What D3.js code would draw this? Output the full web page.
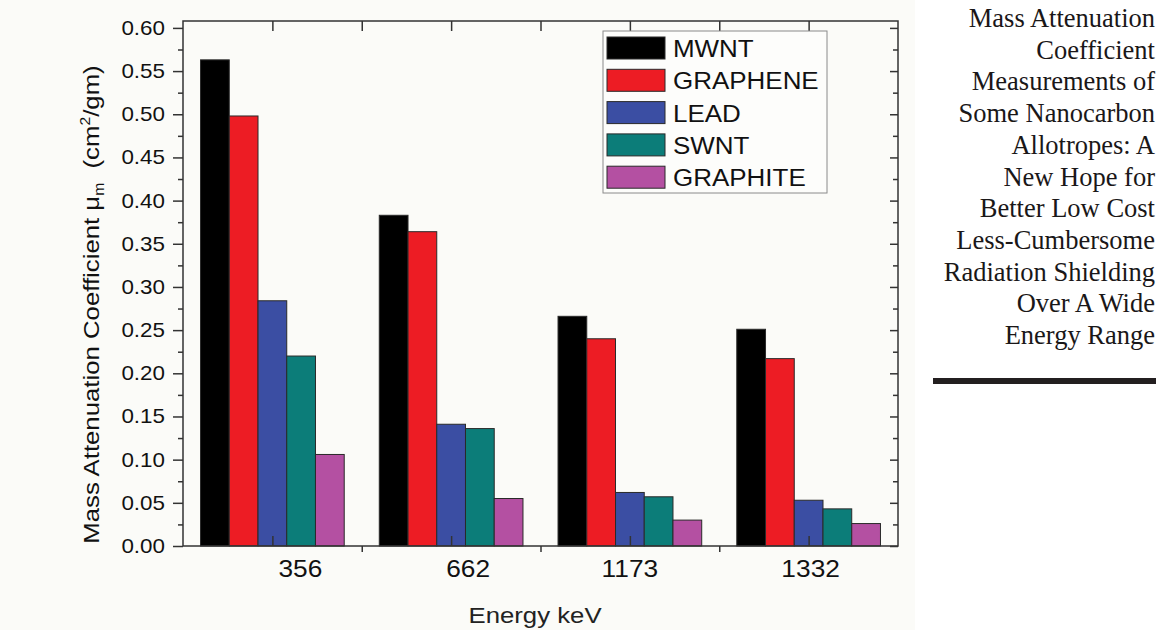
<!DOCTYPE html>
<html>
<head>
<meta charset="utf-8">
<script src="https://cdn.jsdelivr.net/npm/d3@7"></script>
<style>
  body { margin: 0; background: #fff; }
  svg { display: block; }
</style>
</head>
<body>
<div id="chart"></div>
<script>
// data
var energies = ["356", "662", "1173", "1332"];
var materials = ["MWNT", "GRAPHENE", "LEAD", "SWNT", "GRAPHITE"];
var mwnt = [0.563, 0.383, 0.266, 0.251];
var graphene = [0.498, 0.364, 0.240, 0.217];
var lead = [0.284, 0.141, 0.062, 0.053];
var swnt = [0.220, 0.136, 0.057, 0.043];
var graphite = [0.106, 0.055, 0.030, 0.026];
var yTicks = [0, 0.05, 0.10, 0.15, 0.20, 0.25, 0.30, 0.35, 0.40, 0.45, 0.50, 0.55, 0.60];
var yMinor = [0.025, 0.075, 0.125, 0.175, 0.225, 0.275, 0.325, 0.375, 0.425, 0.475, 0.525, 0.575];
var titleLines = ["Mass Attenuation", "Coefficient", "Measurements of", "Some Nanocarbon",
  "Allotropes: A", "New Hope for", "Better Low Cost", "Less-Cumbersome",
  "Radiation Shielding", "Over A Wide", "Energy Range"];

var series = [mwnt, graphene, lead, swnt, graphite];
var colors = ["#000000", "#ed1c24", "#3b4ea3", "#0c7d79", "#b450a2"];
// energy labels in the figure sit a little right of the group centres
var labelNudge = [28, 17, 0, 2];

var W = 1159, H = 630;
var margin = { top: 21, right: 261, bottom: 84, left: 183 };
var width = W - margin.left - margin.right,
  height = H - margin.top - margin.bottom;
var font = "'Liberation Sans', Arial, sans-serif";
// the sans text in the figure is a bit wider than it is tall
var stretch = 1.12;

var svg = d3.select("#chart")
  .append("svg")
  .attr("width", W)
  .attr("height", H);

// the figure panel has a faint off-white tone
svg.append("rect")
  .attr("x", 0).attr("y", 0)
  .attr("width", 915).attr("height", H)
  .attr("fill", "#fbfbf8");

var g = svg.append("g")
  .attr("transform", "translate(" + margin.left + "," + margin.top + ")");

var x0 = d3.scaleBand()
  .domain(energies)
  .range([0, width]);

var x1 = d3.scaleBand()
  .domain(materials)
  .range([0, x0.bandwidth()])
  .paddingOuter(0.61);

var y = d3.scaleLinear()
  .domain([0, 0.608])
  .range([height, 0]);

// bars
var groups = g.selectAll(".group")
  .data(energies)
  .enter()
  .append("g")
  .attr("class", "group")
  .attr("transform", function(d) { return "translate(" + x0(d) + ",0)"; });

groups.selectAll("rect")
  .data(function(d, i) {
    return materials.map(function(m, j) { return { m: m, v: series[j][i], c: colors[j] }; });
  })
  .enter()
  .append("rect")
  .attr("x", function(d) { return x1(d.m); })
  .attr("y", function(d) { return y(d.v); })
  .attr("width", x1.bandwidth())
  .attr("height", function(d) { return height - y(d.v); })
  .attr("fill", function(d) { return d.c; })
  .attr("stroke", "#2a2a2a")
  .attr("stroke-width", 1);

// frame
g.append("rect")
  .attr("x", 0).attr("y", 0)
  .attr("width", width).attr("height", height)
  .attr("fill", "none")
  .attr("stroke", "#333")
  .attr("stroke-width", 1.5);

function styleAxis(sel) {
  sel.select(".domain").remove();
  sel.selectAll("line").attr("stroke", "#333").attr("stroke-width", 1.5);
}

// left axis, ticks outward
var left = g.append("g")
  .call(d3.axisLeft(y).tickValues(yTicks).tickSize(10).tickFormat(d3.format(".2f")))
  .call(styleAxis);
left.selectAll("text")
  .attr("font-family", font)
  .attr("font-size", "20px")
  .attr("fill", "#111")
  .attr("x", -18 / stretch)
  .attr("transform", "scale(" + stretch + ",1)");

g.append("g")
  .call(d3.axisLeft(y).tickValues(yMinor).tickSize(5).tickFormat(""))
  .call(styleAxis);

// right axis, ticks inward
g.append("g")
  .attr("transform", "translate(" + width + ",0)")
  .call(d3.axisRight(y).tickValues(yTicks).tickSize(-8).tickFormat(""))
  .call(styleAxis);
g.append("g")
  .attr("transform", "translate(" + width + ",0)")
  .call(d3.axisRight(y).tickValues(yMinor).tickSize(-5).tickFormat(""))
  .call(styleAxis);

// x ticks: centres point inward, boundaries point outward at the bottom
var xs = d3.scaleLinear().domain([0, energies.length]).range([0, width]);
var centres = energies.map(function(d, i) { return i + 0.5; });
var bounds = d3.range(1, energies.length);

g.append("g")
  .attr("transform", "translate(0," + height + ")")
  .call(d3.axisBottom(xs).tickValues(centres).tickSize(-10).tickFormat(""))
  .call(styleAxis);
g.append("g")
  .attr("transform", "translate(0," + height + ")")
  .call(d3.axisBottom(xs).tickValues(bounds).tickSize(6).tickFormat(""))
  .call(styleAxis);
g.append("g")
  .call(d3.axisTop(xs).tickValues(centres.concat(bounds)).tickSize(-10).tickFormat(""))
  .call(styleAxis);

// energy labels
g.selectAll(".elabel")
  .data(energies)
  .enter()
  .append("text")
  .attr("class", "elabel")
  .attr("transform", function(d, i) {
    return "translate(" + (x0(d) + x0.bandwidth() / 2 + labelNudge[i]) + "," + (height + 31) + ") scale(" + stretch + ",1)";
  })
  .attr("text-anchor", "middle")
  .attr("font-family", font)
  .attr("font-size", "23.5px")
  .attr("fill", "#111")
  .text(function(d) { return d; });

// axis titles
g.append("text")
  .attr("transform", "translate(352," + (height + 77) + ") scale(" + stretch + ",1)")
  .attr("text-anchor", "middle")
  .attr("font-family", font)
  .attr("font-size", "23px")
  .attr("fill", "#222")
  .text("Energy keV");

var yl = g.append("text")
  .attr("transform", "translate(-84," + (height / 2 + 21) + ") rotate(-90) scale(" + stretch + ",1)")
  .attr("text-anchor", "middle")
  .attr("font-family", font)
  .attr("font-size", "23px")
  .attr("fill", "#111");
yl.append("tspan").text("Mass Attenuation Coefficient \u03bc");
yl.append("tspan").attr("font-size", "14px").attr("dy", 5).text("m");
yl.append("tspan").attr("dy", -5).text("\u00a0 (cm");
yl.append("tspan").attr("font-size", "14px").attr("dy", -9).text("2");
yl.append("tspan").attr("dy", 9).text("/gm)");

// legend
var lg = svg.append("g").attr("transform", "translate(603,31)");
lg.append("rect")
  .attr("width", 224).attr("height", 162)
  .attr("fill", "#fdfdfb")
  .attr("stroke", "#8a8a8a")
  .attr("stroke-width", 1);

var rows = lg.selectAll(".row")
  .data(materials)
  .enter()
  .append("g")
  .attr("class", "row")
  .attr("transform", function(d, i) { return "translate(4," + (6 + i * 32.3) + ")"; });

rows.append("rect")
  .attr("width", 58).attr("height", 22)
  .attr("fill", function(d, i) { return colors[i]; })
  .attr("stroke", "#2a2a2a")
  .attr("stroke-width", 1);

rows.append("text")
  .attr("transform", "translate(66,20) scale(1.06,1)")
  .attr("font-family", font)
  .attr("font-size", "24.5px")
  .attr("fill", "#111")
  .text(function(d) { return d; });

// side title
svg.selectAll(".tline")
  .data(titleLines)
  .enter()
  .append("text")
  .attr("class", "tline")
  .attr("x", 1155)
  .attr("y", function(d, i) { return 27 + i * 31.7; })
  .attr("text-anchor", "end")
  .attr("font-family", "'Liberation Serif', 'Times New Roman', serif")
  .attr("font-size", "26.5px")
  .attr("fill", "#1a1718")
  .text(function(d) { return d; });

svg.append("rect")
  .attr("x", 933).attr("y", 378)
  .attr("width", 223).attr("height", 6)
  .attr("fill", "#231f20");
</script>
</body>
</html>
